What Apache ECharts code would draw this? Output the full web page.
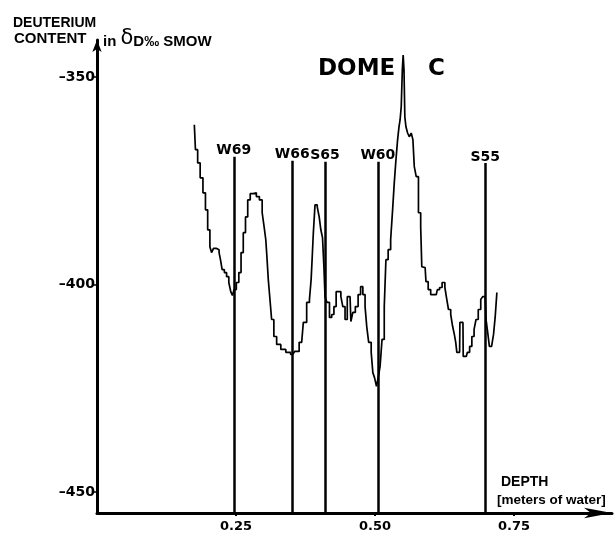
<!DOCTYPE html>
<html>
<head>
<meta charset="utf-8">
<script src="https://cdn.jsdelivr.net/npm/echarts@6/dist/echarts.min.js"></script>
<style>
html,body{margin:0;padding:0;background:#fff;}
#chart{width:615px;height:533px;}
</style>
</head>
<body>
<div id="chart"></div>
<script>
// Depth (meters of water) and deuterium content (δD ‰ SMOW)
const depthValues = [
  0.175,0.179,0.183,0.188,0.193,0.197,0.201,0.205,0.207,0.212,
  0.218,0.221,0.223,0.227,0.231,0.235,0.239,0.242,0.245,0.248,
  0.253,0.257,0.261,0.265,0.269,0.273,0.278,0.284,0.289,0.295,
  0.299,0.302,0.305,0.306,0.310,0.312,0.316,0.320,0.326,0.335,
  0.344,0.352,0.359,0.368,0.374,0.380,0.384,0.386,0.388,0.390,
  0.394,0.398,0.401,0.404,0.407,0.409,0.411,0.416,0.420,0.424,
  0.428,0.432,0.437,0.440,0.444,0.448,0.452,0.455,0.458,0.462,
  0.467,0.472,0.476,0.480,0.484,0.486,0.491,0.495,0.497,0.501,
  0.504,0.508,0.510,0.515,0.518,0.521,0.526,0.530,0.533,0.536,
  0.539,0.542,0.544,0.546,0.548,0.550,0.551,0.553,0.554,0.557,
  0.560,0.563,0.567,0.569,0.572,0.576,0.580,0.584,0.584,0.590,
  0.593,0.598,0.602,0.610,0.614,0.618,0.623,0.628,0.630,0.634,
  0.638,0.641,0.644,0.646,0.648,0.652,0.653,0.658,0.659,0.664,
  0.668,0.672,0.676,0.680,0.683,0.688,0.692,0.695,0.698,0.701,
  0.704,0.707,0.712,0.714,0.718,0.720
];
const deltaDValues = [
  -361.5,-367.5,-370.7,-374.3,-377.9,-382.0,-386.8,-390.9,-392.3,-391.3,
  -391.6,-392.3,-394.0,-396.4,-397.1,-398.1,-399.5,-401.7,-402.6,-401.2,
  -399.5,-397.1,-392.3,-387.5,-383.7,-379.6,-378.1,-377.9,-378.8,-379.6,
  -382.7,-386.1,-389.2,-393.3,-398.8,-403.6,-408.4,-412.5,-414.4,-415.6,
  -416.3,-416.8,-416.1,-413.9,-409.1,-404.3,-403.6,-398.8,-393.3,-387.5,
  -380.8,-381.3,-383.7,-386.8,-388.7,-395.7,-402.9,-404.3,-407.9,-407.2,
  -405.3,-401.7,-401.7,-402.9,-405.3,-408.4,-402.9,-402.9,-408.9,-406.7,
  -405.3,-402.4,-400.5,-402.4,-405.3,-410.1,-413.9,-416.3,-421.2,-422.4,
  -424.5,-422.1,-419.7,-413.2,-405.3,-394.0,-391.6,-389.2,-382.0,-375.5,
  -370.0,-365.1,-362.0,-360.3,-357.2,-348.3,-344.7,-348.3,-359.6,-362.0,
  -363.5,-364.4,-363.5,-365.1,-371.6,-374.0,-382.7,-386.1,-395.7,-395.9,
  -399.3,-401.2,-402.4,-402.4,-401.2,-400.7,-399.5,-400.7,-403.6,-406.0,
  -407.2,-410.1,-412.0,-413.9,-416.3,-416.3,-409.1,-409.1,-417.3,-417.3,
  -416.3,-414.9,-412.5,-410.8,-408.4,-406.0,-403.6,-402.9,-402.9,-408.4,
  -411.5,-414.9,-414.9,-412.0,-407.7,-401.9
];
// Reference horizons (vertical marker lines)
const markerNames = ['W69','W66','S65','W60','S55'];
const markerDepths = [0.246, 0.351, 0.410, 0.505, 0.698];
const markerTops = [-369.2, -370.2, -370.4, -370.4, -370.7];
// Axis tick labels
const yTickValues = [-350, -400, -450];
const xTickValues = [0.25, 0.50, 0.75];

const Y_MIN = -455, Y_MAX = -341.1;
const X_MIN = 0, X_MAX = 0.926;

const curve = depthValues.map((d, i) => [d, deltaDValues[i]]);
const markLines = markerDepths.map((d, i) => [
  { coord: [d, Y_MIN] },
  { coord: [d, markerTops[i]] }
]);
const markerLabels = markerDepths.map((d, i) => ({ value: [d, markerTops[i]], name: markerNames[i] }));

const chart = echarts.init(document.getElementById('chart'), null, { renderer: 'canvas' });
const boldFont = 'DejaVu Sans';
chart.setOption({
  animation: false,
  backgroundColor: '#fff',
  grid: { left: 97, top: 40, width: 515, height: 474 },
  xAxis: {
    type: 'value', min: X_MIN, max: X_MAX,
    splitLine: { show: false },
    axisLine: { show: true, onZero: false, symbol: ['none', 'arrow'], symbolSize: [8, 28],
      lineStyle: { color: '#000', width: 3 } },
    axisTick: { show: true, customValues: xTickValues, length: 3, lineStyle: { color: '#000', width: 2 } },
    axisLabel: { customValues: xTickValues, margin: 7, color: '#000', fontFamily: boldFont, fontWeight: 'bold', fontSize: 13,
      formatter: v => v.toFixed(2) }
  },
  yAxis: {
    type: 'value', min: Y_MIN, max: Y_MAX,
    splitLine: { show: false },
    axisLine: { show: true, onZero: false, symbol: ['none', 'arrow'], symbolSize: [7, 12],
      lineStyle: { color: '#000', width: 3 } },
    axisTick: { show: true, customValues: yTickValues, length: 4, lineStyle: { color: '#000', width: 1.5 } },
    axisLabel: { customValues: yTickValues, margin: 2, color: '#000', fontFamily: boldFont, fontWeight: 'bold', fontSize: 14,
      formatter: v => String(v).replace('-', '\u2013') }
  },
  series: [
    {
      type: 'line', data: curve, showSymbol: false, step: 'middle',
      lineStyle: { color: '#000', width: 1.7 }, silent: true, z: 3
    },
    {
      type: 'line', data: [], silent: true,
      markLine: { symbol: 'none', silent: true, label: { show: false },
        lineStyle: { color: '#000', width: 2.5, type: 'solid' }, data: markLines }
    },
    {
      type: 'scatter', data: markerLabels, symbolSize: 0, silent: true,
      itemStyle: { opacity: 1, color: '#000' },
      label: { show: true, position: 'top', distance: -1, formatter: p => p.name,
        color: '#000', opacity: 1, fontFamily: boldFont, fontWeight: 'bold', fontSize: 14 }
    }
  ],
  graphic: [
    { type: 'text', left: 318, top: 58, style: { text: 'DOME', fill: '#000', font: 'bold 23px "DejaVu Sans"' } },
    { type: 'text', left: 428, top: 58, style: { text: 'C', fill: '#000', font: 'bold 23px "DejaVu Sans"' } },
    { type: 'text', left: 13, top: 16, style: { text: 'DEUTERIUM', fill: '#000', font: 'bold 14px "Liberation Sans"' } },
    { type: 'text', left: 14, top: 31, style: { text: 'CONTENT', fill: '#000', font: 'bold 15px "Liberation Sans"' } },
    { type: 'text', left: 103, top: 28, style: {
        text: '{a|in }{d|δ}{a|D‰ SMOW}',
        rich: {
          a: { fill: '#000', font: 'bold 15px "Liberation Sans"', verticalAlign: 'bottom' },
          d: { fill: '#000', font: '21px "DejaVu Sans"', verticalAlign: 'bottom' }
        } } },
    { type: 'text', left: 501, top: 475, style: { text: 'DEPTH', fill: '#000', font: 'bold 14px "Liberation Sans"' } },
    { type: 'text', left: 497, top: 493, style: { text: '[meters of water]', fill: '#000', font: 'bold 13.5px "Liberation Sans"' } }
  ]
});
</script>
</body>
</html>
